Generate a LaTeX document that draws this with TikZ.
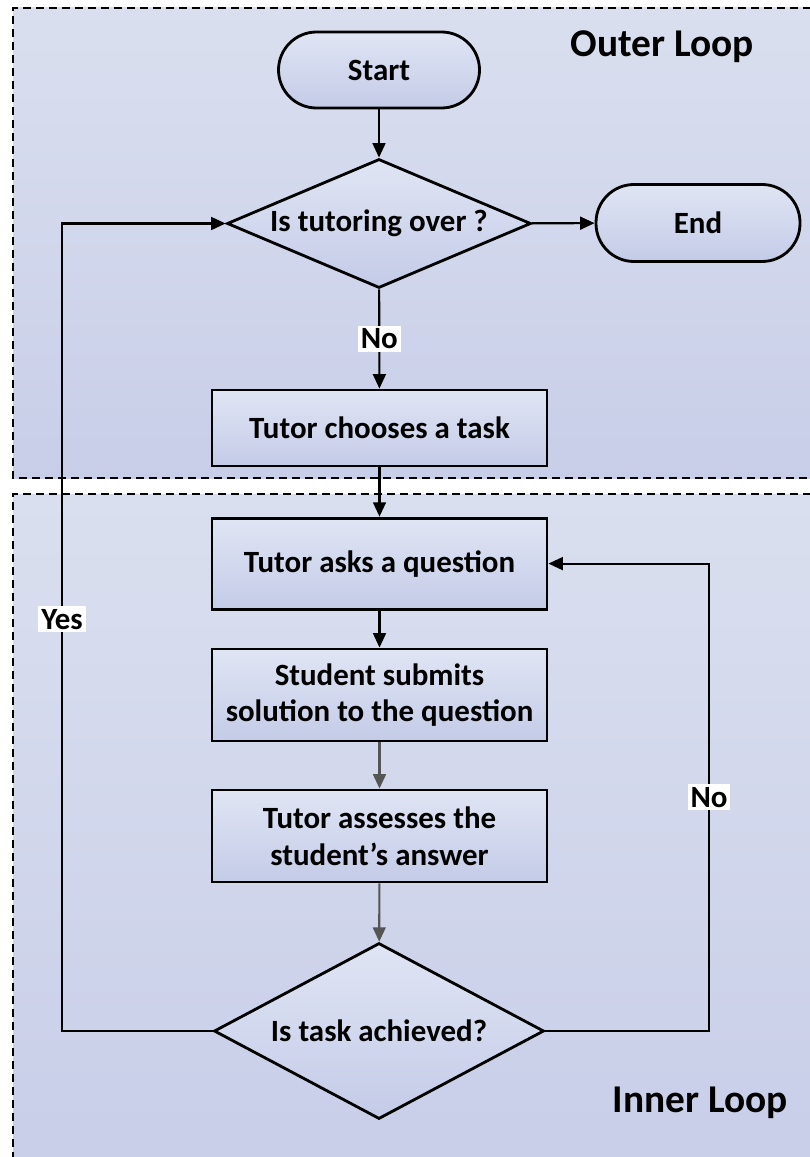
\documentclass[tikz,border=0pt]{standalone}
\usepackage{fontspec}
\setmainfont{Carlito}
\usepackage{tikz}
\usetikzlibrary{arrows.meta,positioning,shapes.geometric}
\definecolor{panelhi}{RGB}{218,223,239}
\definecolor{panello}{RGB}{200,206,232}
\definecolor{boxhi}{RGB}{224,229,244}
\definecolor{boxlo}{RGB}{196,203,231}
\definecolor{darkflow}{RGB}{85,85,85}
\newcommand{\boxfont}{\fontsize{22}{26}\selectfont\bfseries}

\begin{document}
\begin{tikzpicture}[
    panel/.style={top color=panelhi, bottom color=panello},
    panelline/.style={draw=black, line width=1.5pt, dash pattern=on 0.2cm off 0.125cm},
    process/.style={draw, line width=2pt, top color=boxhi, bottom color=boxlo,
      minimum width=8.375cm, align=center, font=\boxfont, inner sep=2pt},
    term/.style={draw, line width=2pt, top color=boxhi, bottom color=boxlo,
      rounded corners=0.95cm, align=center, font=\boxfont},
    decision/.style={diamond, draw, line width=2pt, top color=boxhi, bottom color=boxlo,
      inner sep=0pt, align=center, font=\boxfont},
    flow/.style={-{Triangle[length=0.36cm,width=0.32cm]}, line width=1.5pt},
    greyflow/.style={flow, color=darkflow},
    answer/.style={fill=white, inner sep=2pt, font=\boxfont},
    looptitle/.style={font=\fontsize{28}{32}\selectfont\bfseries},
  ]
  \useasboundingbox (0,0) rectangle (20.225,-28.925);

  % Outer loop panel
  \path[panel] (0.325,-0.2) rectangle (20.6,-11.95);
  \draw[panelline] (20.6,-0.2) -- (0.325,-0.2) -- (0.325,-11.95) -- (20.6,-11.95);
  \node[looptitle] (outertitle) at (16.55,-1.175) {Outer Loop};

  % Inner loop panel
  \path[panel] (0.325,-12.35) rectangle (20.6,-29.3);
  \draw[panelline] (20.6,-12.35) -- (0.325,-12.35) -- (0.325,-29.3);
  \node[looptitle] (innertitle) at (17.5,-27.575) {Inner Loop};

  % Outer loop steps
  \node[term, minimum width=5.025cm, minimum height=1.9cm]
    (start) at (9.475,-1.75) {Start};
  \node[decision, minimum width=7.6cm, minimum height=3.225cm, aspect=2.35]
    (over) at (9.475,-5.5875) {Is tutoring over ?};
  \node[term, minimum width=5.1cm, minimum height=1.925cm]
    (end) at (17.45,-5.575) {End};
  \node[process, minimum height=1.9cm]
    (choose) at (9.4875,-10.7) {Tutor chooses a task};

  % Inner loop steps
  \node[process, minimum height=2.275cm]
    (ask) at (9.4875,-14.09) {Tutor asks a question};
  \node[process, minimum height=2.3cm]
    (submit) at (9.4875,-17.375) {Student submits\\solution to the question};
  \node[process, minimum height=2.3cm]
    (assess) at (9.4875,-20.9) {Tutor assesses the\\student’s answer};
  \node[decision, minimum width=8.25cm, minimum height=4.4cm, aspect=1.875]
    (achieved) at (9.475,-25.775) {Is task achieved?};

  % Loop-back lines
  \coordinate (yesline) at (1.55,0);
  \coordinate (noline) at (17.725,0);

  % Connectors
  \draw[flow] (start) -- (over);
  \draw[flow] (over) -- (end);
  \draw[flow] (over) -- node[answer] {No} (choose);
  \draw[flow] (choose) -- (ask);
  \draw[flow] (ask) -- (submit);
  \draw[greyflow] (submit) -- (assess);
  \draw[greyflow] (assess) -- (achieved);
  \draw[flow] (achieved.west) -| node[answer, pos=0.755] {Yes}
    (yesline |- over.west) -- (over.west);
  \draw[flow] (achieved.east) -| node[answer, pos=0.75] {No}
    (noline |- ask.east) -- (ask.east);
\end{tikzpicture}
\end{document}
